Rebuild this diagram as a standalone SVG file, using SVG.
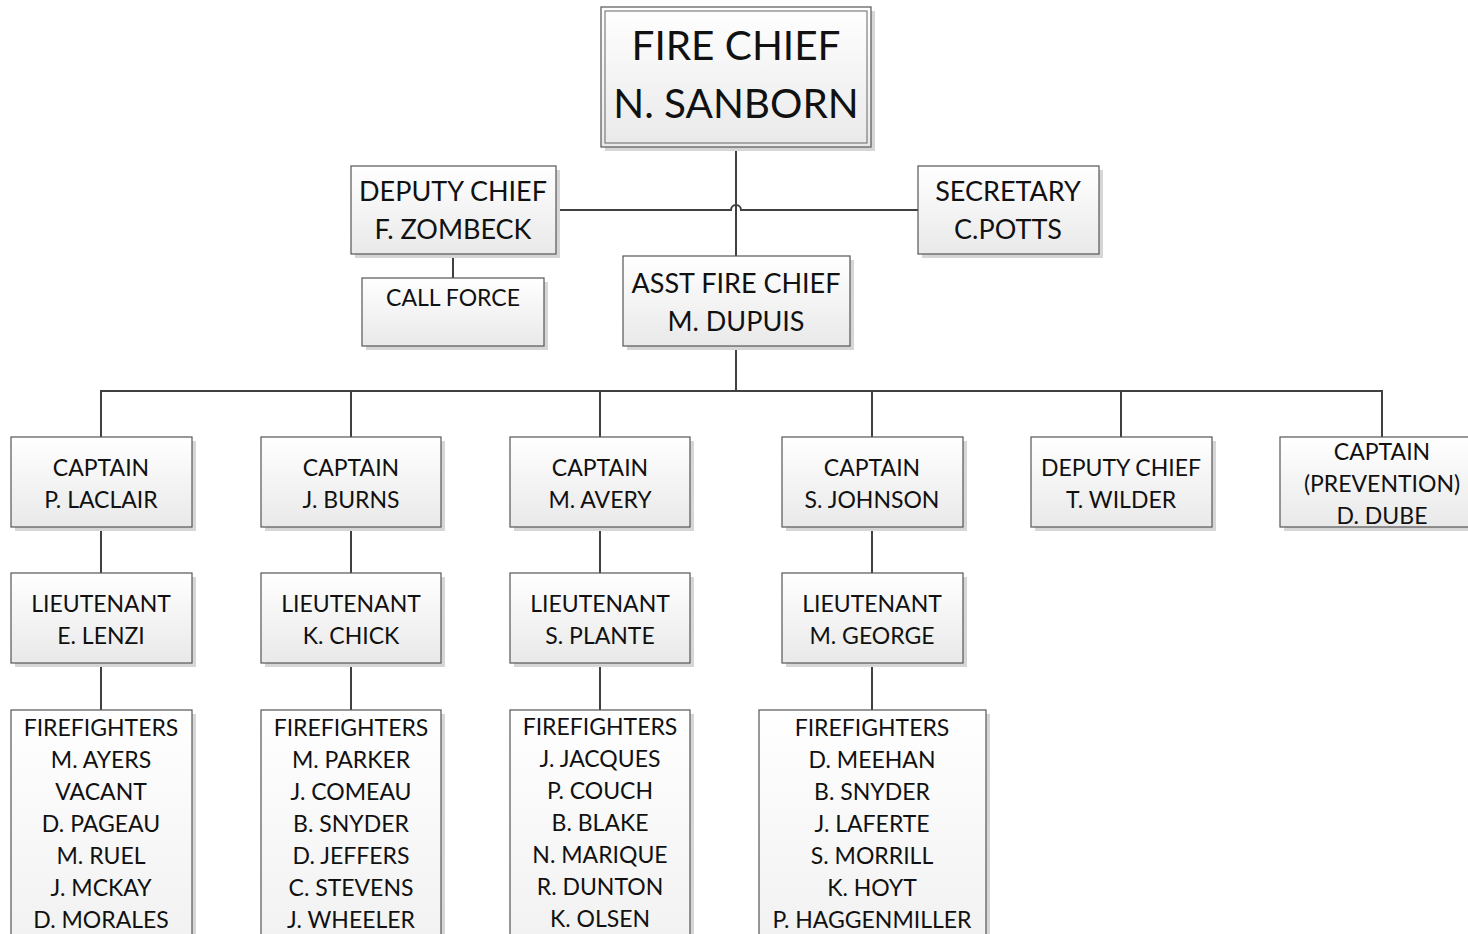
<svg xmlns="http://www.w3.org/2000/svg" width="1468" height="934" viewBox="0 0 1468 934">
  <defs>
    <linearGradient id="boxFill" x1="0" y1="0" x2="0" y2="1">
      <stop offset="0" stop-color="#ffffff"/>
      <stop offset="1" stop-color="#e9e9e9"/>
    </linearGradient>
    <linearGradient id="tallFill" x1="0" y1="0" x2="0" y2="1">
      <stop offset="0" stop-color="#ffffff"/>
      <stop offset="1" stop-color="#f1f1f1"/>
    </linearGradient>
  </defs>
  <style>
    .shadow { fill: #d6d6d6; }
    .box { fill: url(#boxFill); stroke: #555555; stroke-width: 1.2; }
    .tall { fill: url(#tallFill); stroke: #555555; stroke-width: 1.2; }
    .inner { fill: none; stroke: #666666; stroke-width: 1; }
    .wire { fill: none; stroke: #404040; stroke-width: 2; }
    text { font-family: Lato, "Liberation Sans", sans-serif; fill: #111111; text-anchor: middle; }
    .xl { font-size: 40.5px; }
    .lg { font-size: 27px; }
    .md { font-size: 23px; }
  </style>
  <rect width="1468" height="934" fill="#ffffff"/>

  <!-- connectors -->
  <g id="connectors">
    <line class="wire" x1="736" y1="147" x2="736" y2="256"/>
    <path class="wire" d="M556 210 H731 A5 5 0 0 1 741 210 H918"/>
    <line class="wire" x1="453" y1="254" x2="453" y2="278"/>
    <line class="wire" x1="736" y1="346" x2="736" y2="391"/>
    <path class="wire" d="M101 437 V391 H1382 V437"/>
    <line class="wire" x1="351" y1="391" x2="351" y2="437"/>
    <line class="wire" x1="600" y1="391" x2="600" y2="437"/>
    <line class="wire" x1="872" y1="391" x2="872" y2="437"/>
    <line class="wire" x1="1121" y1="391" x2="1121" y2="437"/>
    <line class="wire" x1="101" y1="527" x2="101" y2="573"/>
    <line class="wire" x1="351" y1="527" x2="351" y2="573"/>
    <line class="wire" x1="600" y1="527" x2="600" y2="573"/>
    <line class="wire" x1="872" y1="527" x2="872" y2="573"/>
    <line class="wire" x1="101" y1="663" x2="101" y2="710"/>
    <line class="wire" x1="351" y1="663" x2="351" y2="710"/>
    <line class="wire" x1="600" y1="663" x2="600" y2="710"/>
    <line class="wire" x1="872" y1="663" x2="872" y2="710"/>
  </g>

  <!-- top level -->
  <g id="fire-chief">
    <rect class="shadow" x="605" y="11" width="270" height="140"/>
    <rect class="box" x="601" y="7" width="270" height="140"/>
    <rect class="inner" x="605" y="11" width="262" height="132"/>
    <text class="xl" x="736" y="59.5">FIRE CHIEF</text>
    <text class="xl" x="736" y="117.5">N. SANBORN</text>
  </g>

  <g id="deputy-chief-zombeck">
    <rect class="shadow" x="355" y="170" width="205" height="88"/>
    <rect class="box" x="351" y="166" width="205" height="88"/>
    <text class="lg" x="453" y="200.5">DEPUTY CHIEF</text>
    <text class="lg" x="453" y="238.5">F. ZOMBECK</text>
  </g>

  <g id="secretary">
    <rect class="shadow" x="922" y="170" width="181" height="88"/>
    <rect class="box" x="918" y="166" width="181" height="88"/>
    <text class="lg" x="1008" y="200.5">SECRETARY</text>
    <text class="lg" x="1008" y="238.5">C.POTTS</text>
  </g>

  <g id="call-force">
    <rect class="shadow" x="366" y="282" width="182" height="68"/>
    <rect class="box" x="362" y="278" width="182" height="68"/>
    <text class="md" x="453" y="305.5">CALL FORCE</text>
  </g>

  <g id="asst-fire-chief">
    <rect class="shadow" x="627" y="260" width="227" height="90"/>
    <rect class="box" x="623" y="256" width="227" height="90"/>
    <text class="lg" x="736" y="292.5">ASST FIRE CHIEF</text>
    <text class="lg" x="736" y="330.5">M. DUPUIS</text>
  </g>

  <!-- captains row -->
  <g id="captain-laclair">
    <rect class="shadow" x="15" y="441" width="181" height="90"/>
    <rect class="box" x="11" y="437" width="181" height="90"/>
    <text class="md" x="101" y="475.5">CAPTAIN</text>
    <text class="md" x="101" y="507.5">P. LACLAIR</text>
  </g>
  <g id="captain-burns">
    <rect class="shadow" x="265" y="441" width="180" height="90"/>
    <rect class="box" x="261" y="437" width="180" height="90"/>
    <text class="md" x="351" y="475.5">CAPTAIN</text>
    <text class="md" x="351" y="507.5">J. BURNS</text>
  </g>
  <g id="captain-avery">
    <rect class="shadow" x="514" y="441" width="180" height="90"/>
    <rect class="box" x="510" y="437" width="180" height="90"/>
    <text class="md" x="600" y="475.5">CAPTAIN</text>
    <text class="md" x="600" y="507.5">M. AVERY</text>
  </g>
  <g id="captain-johnson">
    <rect class="shadow" x="786" y="441" width="181" height="90"/>
    <rect class="box" x="782" y="437" width="181" height="90"/>
    <text class="md" x="872" y="475.5">CAPTAIN</text>
    <text class="md" x="872" y="507.5">S. JOHNSON</text>
  </g>
  <g id="deputy-chief-wilder">
    <rect class="shadow" x="1035" y="441" width="181" height="90"/>
    <rect class="box" x="1031" y="437" width="181" height="90"/>
    <text class="md" x="1121" y="475.5">DEPUTY CHIEF</text>
    <text class="md" x="1121" y="507.5">T. WILDER</text>
  </g>
  <g id="captain-dube">
    <rect class="shadow" x="1284" y="441" width="204" height="90"/>
    <rect class="box" x="1280" y="437" width="204" height="90"/>
    <text class="md" x="1382" y="459.5">CAPTAIN</text>
    <text class="md" x="1382" y="491.5">(PREVENTION)</text>
    <text class="md" x="1382" y="523.5">D. DUBE</text>
  </g>

  <!-- lieutenants row -->
  <g id="lieutenant-lenzi">
    <rect class="shadow" x="15" y="577" width="181" height="90"/>
    <rect class="box" x="11" y="573" width="181" height="90"/>
    <text class="md" x="101" y="611.5">LIEUTENANT</text>
    <text class="md" x="101" y="643.5">E. LENZI</text>
  </g>
  <g id="lieutenant-chick">
    <rect class="shadow" x="265" y="577" width="180" height="90"/>
    <rect class="box" x="261" y="573" width="180" height="90"/>
    <text class="md" x="351" y="611.5">LIEUTENANT</text>
    <text class="md" x="351" y="643.5">K. CHICK</text>
  </g>
  <g id="lieutenant-plante">
    <rect class="shadow" x="514" y="577" width="180" height="90"/>
    <rect class="box" x="510" y="573" width="180" height="90"/>
    <text class="md" x="600" y="611.5">LIEUTENANT</text>
    <text class="md" x="600" y="643.5">S. PLANTE</text>
  </g>
  <g id="lieutenant-george">
    <rect class="shadow" x="786" y="577" width="181" height="90"/>
    <rect class="box" x="782" y="573" width="181" height="90"/>
    <text class="md" x="872" y="611.5">LIEUTENANT</text>
    <text class="md" x="872" y="643.5">M. GEORGE</text>
  </g>

  <!-- firefighter crews -->
  <g id="firefighters-1">
    <rect class="shadow" x="15" y="714" width="181" height="240"/>
    <rect class="tall" x="11" y="710" width="181" height="240"/>
    <text class="md" x="101" y="735.5">FIREFIGHTERS</text>
    <text class="md" x="101" y="767.5">M. AYERS</text>
    <text class="md" x="101" y="799.5">VACANT</text>
    <text class="md" x="101" y="831.5">D. PAGEAU</text>
    <text class="md" x="101" y="863.5">M. RUEL</text>
    <text class="md" x="101" y="895.5">J. MCKAY</text>
    <text class="md" x="101" y="927.5">D. MORALES</text>
  </g>
  <g id="firefighters-2">
    <rect class="shadow" x="265" y="714" width="180" height="240"/>
    <rect class="tall" x="261" y="710" width="180" height="240"/>
    <text class="md" x="351" y="735.5">FIREFIGHTERS</text>
    <text class="md" x="351" y="767.5">M. PARKER</text>
    <text class="md" x="351" y="799.5">J. COMEAU</text>
    <text class="md" x="351" y="831.5">B. SNYDER</text>
    <text class="md" x="351" y="863.5">D. JEFFERS</text>
    <text class="md" x="351" y="895.5">C. STEVENS</text>
    <text class="md" x="351" y="927.5">J. WHEELER</text>
  </g>
  <g id="firefighters-3">
    <rect class="shadow" x="514" y="714" width="180" height="240"/>
    <rect class="tall" x="510" y="710" width="180" height="240"/>
    <text class="md" x="600" y="734.5">FIREFIGHTERS</text>
    <text class="md" x="600" y="766.5">J. JACQUES</text>
    <text class="md" x="600" y="798.5">P. COUCH</text>
    <text class="md" x="600" y="830.5">B. BLAKE</text>
    <text class="md" x="600" y="862.5">N. MARIQUE</text>
    <text class="md" x="600" y="894.5">R. DUNTON</text>
    <text class="md" x="600" y="926.5">K. OLSEN</text>
  </g>
  <g id="firefighters-4">
    <rect class="shadow" x="763" y="714" width="227" height="240"/>
    <rect class="tall" x="759" y="710" width="227" height="240"/>
    <text class="md" x="872" y="735.5">FIREFIGHTERS</text>
    <text class="md" x="872" y="767.5">D. MEEHAN</text>
    <text class="md" x="872" y="799.5">B. SNYDER</text>
    <text class="md" x="872" y="831.5">J. LAFERTE</text>
    <text class="md" x="872" y="863.5">S. MORRILL</text>
    <text class="md" x="872" y="895.5">K. HOYT</text>
    <text class="md" x="872" y="927.5">P. HAGGENMILLER</text>
  </g>
</svg>
